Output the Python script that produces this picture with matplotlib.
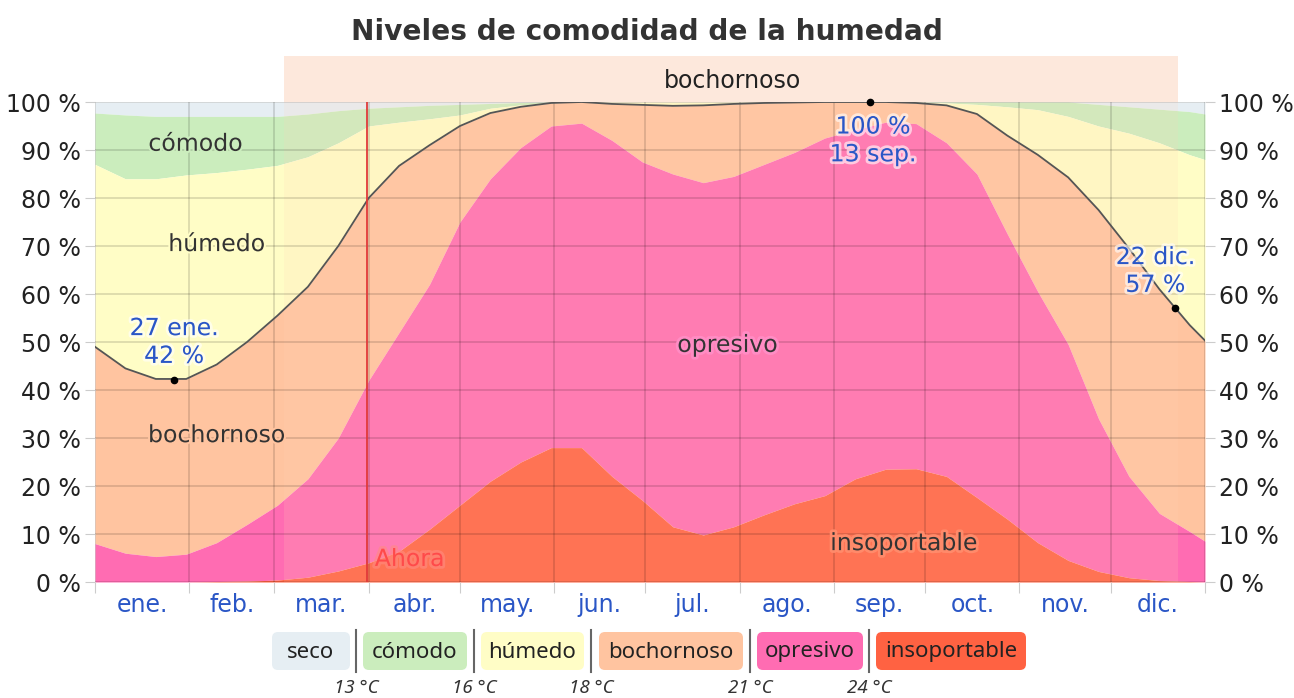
import matplotlib.pyplot as plt
import matplotlib.patheffects as pe
from matplotlib.patches import FancyBboxPatch, Rectangle
import numpy as np

plt.rcParams['font.family'] = ['DejaVu Sans']

# day of year and cumulative top of each comfort band (%)
days = [0, 10, 20, 30, 40, 50, 60, 70, 80, 90, 100, 110, 120, 130, 140, 150, 160, 170, 180,
        190, 200, 210, 220, 230, 240, 250, 260, 270, 280, 290, 300, 310, 320, 330, 340, 350,
        360, 365]
insoportable = [0, 0, 0, 0, 0.1, 0.2, 0.4, 1.0, 2.3, 4.0, 6.4, 11, 16, 21, 25, 28, 28, 22, 17,
                11.5, 9.8, 11.5, 14, 16.3, 18, 21.5, 23.5, 23.6, 22, 17.6, 13.1, 8.2, 4.5, 2.2,
                0.9, 0.3, 0.1, 0]
opresivo = [8, 6, 5.3, 5.8, 8.2, 12, 16, 21.5, 30, 42, 52, 62, 75, 84, 90.5, 95, 95.6, 92, 87.5,
            85, 83.2, 84.5, 87, 89.5, 92.5, 94.2, 95.8, 95.5, 91.5, 85, 72.5, 60.5, 49.5, 34,
            22, 14.3, 10.5, 8.5]
bochornoso = [49, 44.5, 42.3, 42.3, 45.3, 50, 55.5, 61.5, 70, 80, 86.7, 91, 95, 97.7, 99, 99.8,
              100, 99.6, 99.4, 99.2, 99.3, 99.6, 99.8, 99.9, 100, 100, 100, 99.8, 99.3, 97.5,
              93, 89, 84.3, 77.5, 69.5, 61, 53.5, 50.3]
humedo = [87, 84, 84, 84.8, 85.3, 86, 86.8, 88.6, 91.5, 95, 95.8, 96.5, 97.3, 98.7, 99.4, 99.8,
          100, 100, 100, 100, 100, 100, 100, 100, 100, 100, 100, 100,
          99.8, 99.5, 99, 98.4, 97, 95, 93.5, 91.5, 89, 88]
comodo = [97.7, 97.3, 97, 97, 97, 97, 97, 97.5, 98.2, 98.7, 99, 99.3, 99.5, 99.7, 99.9,
          100, 100, 100, 100, 100, 100, 100, 100, 100, 100, 100, 100, 100, 100, 100, 100, 100, 100,
          99.5, 99, 98.5, 98, 97.5]
seco = [100] * len(days)

month_labels = ["ene.", "feb.", "mar.", "abr.", "may.", "jun.", "jul.", "ago.", "sep.", "oct.",
                "nov.", "dic."]
month_starts = [0, 31, 59, 90, 120, 151, 181, 212, 243, 273, 304, 334, 365]

band_names = ["seco", "cómodo", "húmedo", "bochornoso", "opresivo", "insoportable"]
band_colors = ["#e6eef3", "#cbedbd", "#fffdc6", "#ffc4a0", "#ff6cb2", "#ff6242"]
temps = ["13 °C", "16 °C", "18 °C", "21 °C", "24 °C"]

muggy_start, muggy_end = 62, 356
now_day = 89.5
marks = [(26, 42, "27 ene.\n42 %"), (255, 100, "100 %\n13 sep."), (355, 57, "22 dic.\n57 %")]

fig = plt.figure(figsize=(12.94, 6.98), dpi=100)
ax = fig.add_axes([95 / 1294, 1 - 582 / 698, 1110 / 1294, 480 / 698])

d = np.array(days)
tops = [seco, comodo, humedo, bochornoso, opresivo, insoportable]
for i, (top, col) in enumerate(zip(tops, band_colors)):
    low = tops[i + 1] if i + 1 < len(tops) else [0] * len(days)
    ax.fill_between(d, low, top, color=col, lw=0, zorder=1)

ax.plot(d, bochornoso, color="#555555", lw=1.3, zorder=4)

# muggy season overlay + band above the plot
ax.axvspan(muggy_start, muggy_end, color="#ffd2b8", alpha=0.16, lw=0, zorder=2)
ax.add_patch(Rectangle((muggy_start, 100), muggy_end - muggy_start, 9.6, color="#fde8dc",
                       lw=0, clip_on=False, zorder=0))
ax.text((muggy_start + muggy_end) / 2 + 0.5, 104.4, "bochornoso", ha="center", va="center",
        fontsize=17, color="#222222")

ax.set_xlim(0, 365)
ax.set_ylim(0, 100)
ax.set_xticks(month_starts)
ax.set_xticklabels([])
ax.set_xticks([(a + b) / 2 for a, b in zip(month_starts[:-1], month_starts[1:])], minor=True)
ax.set_xticklabels(month_labels, minor=True, fontsize=17, color="#2a56c6")
ax.tick_params(axis="x", which="minor", length=0, pad=8)
ax.tick_params(axis="x", which="major", length=8, color="#cccccc")
ax.set_yticks(range(0, 101, 10))
ax.set_yticklabels([f"{v} %" for v in range(0, 101, 10)], fontsize=17, color="#222222")
ax.tick_params(axis="y", length=7, color="#cccccc", right=True, labelright=True, pad=3)
ax.grid(True, which="major", color="black", alpha=0.15, lw=1.2, zorder=3)
ax.set_axisbelow(False)
for s in ax.spines.values():
    s.set_visible(False)

# now line
ax.axvline(now_day, color="#e03a3a", lw=1.3, zorder=5)
ax.text(now_day + 2.5, 4.8, "Ahora", color="#ff4a4a", fontsize=17, ha="left", va="center",
        zorder=6, path_effects=[pe.withStroke(linewidth=4, foreground="#ff8a80", alpha=0.6)])

# band labels
lab = dict(fontsize=17, color="#333333", ha="center", va="center", zorder=6)
ax.text(33, 91.3, "cómodo", path_effects=[pe.withStroke(linewidth=3, foreground=band_colors[1])], **lab)
ax.text(40, 70.4, "húmedo", path_effects=[pe.withStroke(linewidth=3, foreground=band_colors[2])], **lab)
ax.text(40, 30.6, "bochornoso", path_effects=[pe.withStroke(linewidth=3, foreground=band_colors[3])], **lab)
ax.text(208, 49.4, "opresivo", path_effects=[pe.withStroke(linewidth=4, foreground="#ff8cc4")], **lab)
ax.text(266, 8.1, "insoportable", path_effects=[pe.withStroke(linewidth=4, foreground="#ff8a6a")], **lab)

# annotations
offsets = [(0, 8.0), (0.8, -8.0), (-6.3, 7.8)]
for (md, mv, txt), (dx, dy) in zip(marks, offsets):
    ax.plot(md, mv, "o", color="black", ms=4.5, zorder=7, clip_on=False)
    ax.text(md + dx, mv + dy, txt, color="#2a56c6", fontsize=17, ha="center", va="center",
            linespacing=1.2, zorder=7,
            path_effects=[pe.withStroke(linewidth=4, foreground="white", alpha=0.6)])

fig.text(0.5, 1 - 32 / 698, "Niveles de comodidad de la humedad", ha="center", va="center",
         fontsize=20.2, fontweight="bold", color="#333333")

# legend in pixel coordinates
lg = fig.add_axes([0, 0, 1, 1], zorder=10)
lg.set_xlim(0, 1294)
lg.set_ylim(698, 0)
lg.axis("off")
boxes = [(272, 350), (363, 467), (481, 584), (599, 743), (757, 863), (876, 1026)]
for (x0, x1), name, col in zip(boxes, band_names, band_colors):
    lg.add_patch(FancyBboxPatch((x0 + 4, 636), x1 - x0 - 8, 30,
                                boxstyle="round,pad=4,rounding_size=6", color=col, lw=0))
    lg.text((x0 + x1) / 2, 652, name, ha="center", va="center", fontsize=16, color="#222222",
            family="Noto Sans")
seps = [356, 474, 591, 750, 869]
for sx, t in zip(seps, temps):
    lg.plot([sx, sx], [630, 672], color="#666666", lw=1.5)
    lg.text(sx, 688, t, ha="center", va="center", fontsize=13.5, style="italic", color="#333333",
            family="Noto Sans")

fig.savefig("out.png", dpi=100)
